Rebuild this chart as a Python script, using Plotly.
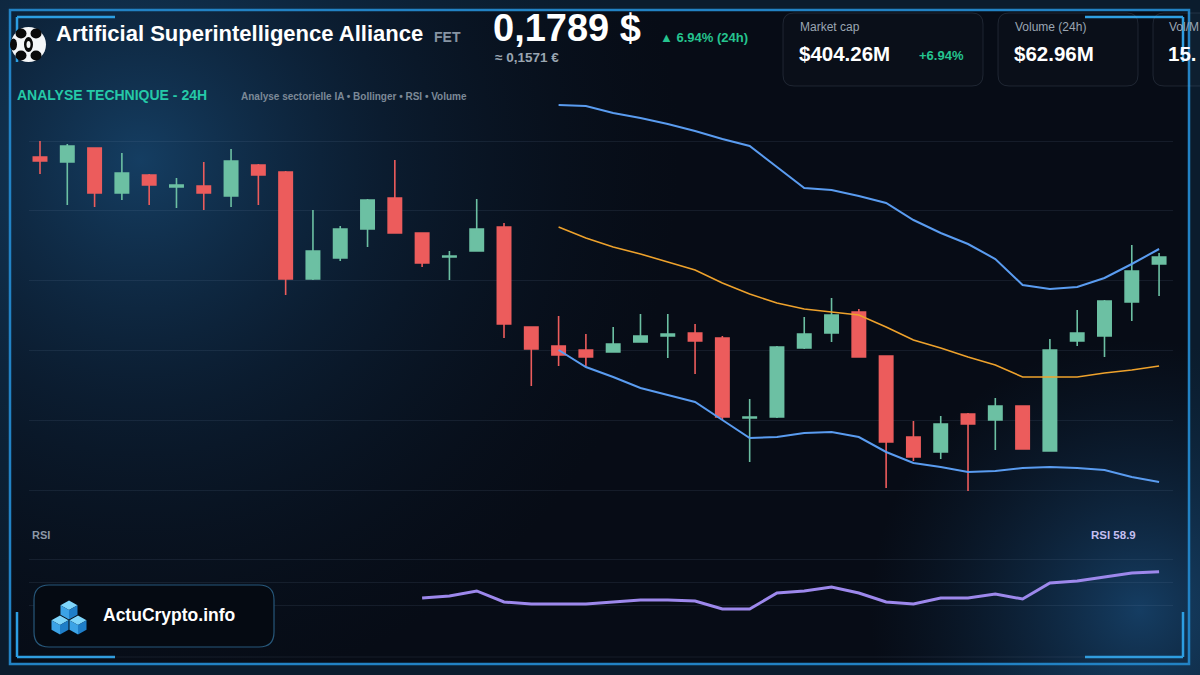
import base64
import plotly.graph_objects as go

# ---------------- data ----------------
idx = list(range(42))
open_ = [0.1889, 0.1884, 0.1898, 0.1853, 0.1871, 0.1859, 0.1860, 0.1850, 0.1881, 0.1874,
         0.1767, 0.1788, 0.1817, 0.1848, 0.1813, 0.1789, 0.1795, 0.1819, 0.1719, 0.1700,
         0.1696, 0.1694, 0.1704, 0.1710, 0.1713, 0.1708, 0.1628, 0.1629, 0.1698, 0.1713,
         0.1734, 0.1690, 0.1609, 0.1594, 0.1632, 0.1626, 0.1640, 0.1595, 0.1705, 0.1710,
         0.1744, 0.1782]
high_ = [0.1905, 0.1902, 0.1898, 0.1893, 0.1872, 0.1868, 0.1884, 0.1897, 0.1882, 0.1875,
         0.1836, 0.1820, 0.1847, 0.1886, 0.1813, 0.1795, 0.1847, 0.1823, 0.1719, 0.1730,
         0.1712, 0.1719, 0.1732, 0.1732, 0.1722, 0.1710, 0.1647, 0.1700, 0.1729, 0.1748,
         0.1737, 0.1690, 0.1625, 0.1630, 0.1633, 0.1648, 0.1640, 0.1707, 0.1736, 0.1746,
         0.1801, 0.1793]
low_ = [0.1872, 0.1841, 0.1839, 0.1846, 0.1841, 0.1838, 0.1836, 0.1839, 0.1841, 0.1751,
        0.1766, 0.1785, 0.1799, 0.1813, 0.1779, 0.1766, 0.1795, 0.1708, 0.1660, 0.1680,
        0.1680, 0.1694, 0.1704, 0.1688, 0.1672, 0.1626, 0.1584, 0.1628, 0.1697, 0.1704,
        0.1689, 0.1558, 0.1585, 0.1587, 0.1555, 0.1596, 0.1597, 0.1595, 0.1700, 0.1689,
        0.1725, 0.1750]
close_ = [0.1885, 0.1900, 0.1853, 0.1873, 0.1861, 0.1861, 0.1853, 0.1885, 0.1871, 0.1767,
          0.1795, 0.1817, 0.1846, 0.1813, 0.1783, 0.1790, 0.1817, 0.1722, 0.1697, 0.1691,
          0.1689, 0.1702, 0.1710, 0.1712, 0.1705, 0.1629, 0.1629, 0.1699, 0.1712, 0.1731,
          0.1689, 0.1604, 0.1589, 0.1622, 0.1622, 0.1640, 0.1597, 0.1696, 0.1713, 0.1745,
          0.1775, 0.1789]

bb_x = list(range(19, 42))
bb_upper = [0.1941, 0.1940, 0.1933, 0.1928, 0.1922, 0.1915, 0.1907, 0.1900, 0.1879, 0.1858,
            0.1856, 0.1850, 0.1843, 0.1826, 0.1813, 0.1802, 0.1787, 0.1761, 0.1757, 0.1759,
            0.1768, 0.1782, 0.1797]
bb_mid = [0.1819, 0.1808, 0.1799, 0.1792, 0.1784, 0.1776, 0.1763, 0.1752, 0.1743, 0.1737,
          0.1734, 0.1731, 0.1719, 0.1706, 0.1698, 0.1689, 0.1681, 0.1669, 0.1669, 0.1669,
          0.1673, 0.1676, 0.1680]
bb_lower = [0.1696, 0.1679, 0.1669, 0.1658, 0.1651, 0.1644, 0.1626, 0.1608, 0.1609, 0.1613,
            0.1614, 0.1609, 0.1594, 0.1583, 0.1579, 0.1574, 0.1575, 0.1578, 0.1579, 0.1578,
            0.1576, 0.1569, 0.1564]

rsi_x = list(range(14, 42))
rsi = [36.1, 37.8, 42.2, 32.6, 30.9, 30.9, 30.9, 32.6, 34.3, 34.3,
       33.5, 26.5, 26.5, 40.4, 42.2, 45.7, 40.4, 32.6, 30.9, 36.1,
       36.1, 39.6, 35.2, 49.1, 50.9, 54.3, 57.8, 58.9]
rsi_levels = [30, 50, 70]

# ---------------- layout helpers ----------------
W, H = 1200, 675
L, R, T, B = 29, 27, 100, 18
PW, PH = W - L - R, H - T - B


def px(x):
    return (x - L) / PW


def py(y):
    return (H - B - y) / PH


FONT = "Liberation Sans, Arial, sans-serif"
GREEN = "#6cc0a3"
RED = "#ec5c5c"

fig = go.Figure()

fig.add_trace(go.Candlestick(
    x=idx, open=open_, high=high_, low=low_, close=close_,
    increasing=dict(line=dict(color=GREEN, width=1.6), fillcolor=GREEN),
    decreasing=dict(line=dict(color=RED, width=1.6), fillcolor=RED),
    xaxis="x", yaxis="y", hoverinfo="skip", showlegend=False,
))
fig.add_trace(go.Scatter(x=bb_x, y=bb_upper, mode="lines",
                         line=dict(color="#5a9cf0", width=2), xaxis="x", yaxis="y",
                         hoverinfo="skip", showlegend=False))
fig.add_trace(go.Scatter(x=bb_x, y=bb_mid, mode="lines",
                         line=dict(color="#eea22c", width=1.6), xaxis="x", yaxis="y",
                         hoverinfo="skip", showlegend=False))
fig.add_trace(go.Scatter(x=bb_x, y=bb_lower, mode="lines",
                         line=dict(color="#5a9cf0", width=2), xaxis="x", yaxis="y",
                         hoverinfo="skip", showlegend=False))
fig.add_trace(go.Scatter(x=rsi_x, y=rsi, mode="lines",
                         line=dict(color="#9d88ec", width=3), xaxis="x2", yaxis="y2",
                         hoverinfo="skip", showlegend=False))

# ---------------- background svg (gradients only) ----------------
svg = '''<svg xmlns="http://www.w3.org/2000/svg" width="1200" height="675" viewBox="0 0 1200 675">
<defs>
<radialGradient id="g1" cx="140" cy="160" r="540" gradientUnits="userSpaceOnUse">
<stop offset="0" stop-color="#184a75" stop-opacity="0.8"/>
<stop offset="0.45" stop-color="#10304f" stop-opacity="0.45"/>
<stop offset="1" stop-color="#0a1a2c" stop-opacity="0"/>
</radialGradient>
<radialGradient id="g2" cx="1140" cy="610" r="270" gradientUnits="userSpaceOnUse">
<stop offset="0" stop-color="#1b5283" stop-opacity="0.7"/>
<stop offset="1" stop-color="#10304f" stop-opacity="0"/>
</radialGradient>
</defs>
<rect width="1200" height="675" fill="#0b1c2d"/>
<rect x="10" y="10" width="1179" height="654" fill="#070c16"/>
<rect width="1200" height="675" fill="url(#g1)"/>
<rect width="1200" height="675" fill="url(#g2)"/>
</svg>'''
src = "data:image/svg+xml;base64," + base64.b64encode(svg.encode()).decode()

shapes = []


def line(x0, y0, x1, y1, color, width):
    shapes.append(dict(type="line", xref="paper", yref="paper", x0=px(x0), y0=py(y0),
                       x1=px(x1), y1=py(y1), line=dict(color=color, width=width), layer="below"))


def rrect(x0, y0, x1, y1, r, fill, border, width=1, layer="below"):
    pts = [("M", x0 + r, y0), ("L", x1 - r, y0), ("Q", x1, y0, x1, y0 + r),
           ("L", x1, y1 - r), ("Q", x1, y1, x1 - r, y1), ("L", x0 + r, y1),
           ("Q", x0, y1, x0, y1 - r), ("L", x0, y0 + r), ("Q", x0, y0, x0 + r, y0)]
    parts = []
    for p in pts:
        cmd = p[0]
        vals = p[1:]
        coords = []
        for i in range(0, len(vals), 2):
            coords.append(f"{px(vals[i]):.6f},{py(vals[i + 1]):.6f}")
        parts.append(cmd + " ".join(coords))
    path = " ".join(parts) + " Z"
    shapes.append(dict(type="path", xref="paper", yref="paper", path=path,
                       fillcolor=fill, line=dict(color=border, width=width), layer=layer))


def poly(points, fill, layer="above"):
    path = "M" + " L".join(f"{px(x):.6f},{py(y):.6f}" for x, y in points) + " Z"
    shapes.append(dict(type="path", xref="paper", yref="paper", path=path,
                       fillcolor=fill, line=dict(width=0), layer=layer))


def circle(cx, cy, rx, ry, fill, layer="above"):
    shapes.append(dict(type="circle", xref="paper", yref="paper",
                       x0=px(cx - rx), x1=px(cx + rx), y0=py(cy + ry), y1=py(cy - ry),
                       fillcolor=fill, line=dict(width=0), layer=layer))


# frame
FR = "#2282c4"
ACC = "#2c9ee2"
shapes.append(dict(type="rect", xref="paper", yref="paper", x0=px(10), x1=px(1189),
                   y0=py(664), y1=py(10), line=dict(color=FR, width=2.5), layer="below"))
line(17, 17, 115, 17, ACC, 2.5)
line(17, 17, 17, 62, ACC, 2.5)
line(1085, 17, 1183, 17, ACC, 2.5)
line(1183, 17, 1183, 62, ACC, 2.5)
line(17, 612, 17, 657, ACC, 2.5)
line(17, 657, 115, 657, ACC, 2.5)
line(1085, 657, 1183, 657, ACC, 2.5)
line(1183, 612, 1183, 657, ACC, 2.5)
# rsi bottom line
line(29, 657, 1173, 657, "rgba(120,150,180,0.13)", 1)

# cards
CARD_FILL = "rgba(255,255,255,0.015)"
CARD_BORDER = "rgba(150,170,190,0.16)"
rrect(783, 13, 983, 86, 11, CARD_FILL, CARD_BORDER)
rrect(998, 13, 1138, 86, 11, CARD_FILL, CARD_BORDER)
rrect(1153, 13, 1260, 86, 11, CARD_FILL, CARD_BORDER)

# logo box
rrect(34, 585, 274, 647, 15, "#050a12", "#27577a", 1.2, layer="above")

# cubes icon
def cube(cx, cy, w=8.5, h=4.7):
    top = (cx, cy - 2 * h)
    ur = (cx + w, cy - h)
    lr = (cx + w, cy + h)
    bot = (cx, cy + 2 * h)
    ll = (cx - w, cy + h)
    ul = (cx - w, cy - h)
    c = (cx, cy)
    poly([top, ur, c, ul], "#7fd6fb")
    poly([ul, c, bot, ll], "#3ca3e6")
    poly([c, ur, lr, bot], "#1f7ec8")


cube(69, 610)
cube(60, 625)
cube(78, 625)

# FET logo
circle(28.5, 44.5, 17.5, 17.5, "#f4f6f8")
circle(21, 33.5, 5.5, 5, "#0a0a0a")
circle(36, 33.5, 5.5, 5, "#0a0a0a")
circle(21, 55.5, 5.5, 5, "#0a0a0a")
circle(36, 55.5, 5.5, 5, "#0a0a0a")
circle(28.5, 44.5, 4.5, 7.5, "#0a0a0a")
circle(28.5, 44.5, 2, 3.5, "#f4f6f8")
circle(13.5, 44.5, 3.5, 6, "#0a0a0a")

annotations = []


def text(x, y, s, size, color, bold=False, anchor="left"):
    annotations.append(dict(xref="paper", yref="paper", x=px(x), y=py(y),
                            xanchor=anchor, yanchor="middle", showarrow=False,
                            text=f"<b>{s}</b>" if bold else s,
                            font=dict(family=FONT, size=size, color=color)))


text(54, 34, "Artificial Superintelligence Alliance", 22, "#ffffff", True)
text(432, 37, "FET", 14, "#8794a3", True)
text(491, 28, "0,1789 $", 38, "#ffffff", True)
text(658, 37, "▲ 6.94% (24h)", 13, "#25c48f", True)
text(493, 57, "≈ 0,1571 €", 13.5, "#9aa5b1", True)

text(798, 27, "Market cap", 12, "#9ba6b3")
text(797, 53, "$404.26M", 20.5, "#ffffff", True)
text(917, 55, "+6.94%", 13, "#25c48f", True)
text(1013, 27, "Volume (24h)", 12, "#9ba6b3")
text(1012, 53, "$62.96M", 20.5, "#ffffff", True)
text(1167, 27, "Vol/M", 12, "#9ba6b3")
text(1166, 53, "15.", 20.5, "#ffffff", True)

text(15, 95, "ANALYSE TECHNIQUE - 24H", 14, "#25c9a8", True)
text(239, 96, "Analyse sectorielle IA • Bollinger • RSI • Volume", 10, "#7c8997", True)

text(30, 535, "RSI", 11, "#8c98a6", True)
text(1089, 535, "RSI 58.9", 11.5, "#c4bff0", True)

text(101, 615, "ActuCrypto.info", 17.5, "#ffffff", True)

GRID = "rgba(120,150,180,0.12)"

fig.update_layout(
    width=W, height=H,
    margin=dict(l=L, r=R, t=T, b=B, pad=0),
    paper_bgcolor="#070c16",
    plot_bgcolor="rgba(0,0,0,0)",
    showlegend=False,
    hovermode=False,
    xaxis=dict(domain=[0, 1], range=[-0.403, 41.51], showgrid=False, zeroline=False,
               showticklabels=False, showline=False, rangeslider=dict(visible=False),
               fixedrange=True, anchor="y"),
    yaxis=dict(domain=[py(505), 1], range=[0.1541, 0.1946], tickmode="linear",
               tick0=0.1905, dtick=0.00698, showgrid=True, gridcolor=GRID, gridwidth=1,
               zeroline=False, showticklabels=False, showline=False, anchor="x"),
    xaxis2=dict(domain=[0, 1], range=[-0.403, 41.51], showgrid=False, zeroline=False,
                showticklabels=False, showline=False, anchor="y2"),
    yaxis2=dict(domain=[0, py(545)], range=[-15.22, 82.17], tickmode="array",
                tickvals=rsi_levels, showgrid=True, gridcolor=GRID, gridwidth=1,
                zeroline=False, showticklabels=False, showline=False, anchor="x2"),
    images=[dict(source=src, xref="paper", yref="paper", x=px(0), y=py(0),
                 sizex=W / PW, sizey=H / PH, xanchor="left", yanchor="top",
                 sizing="stretch", layer="below")],
    shapes=shapes,
    annotations=annotations,
)

fig.write_html("out.html")
